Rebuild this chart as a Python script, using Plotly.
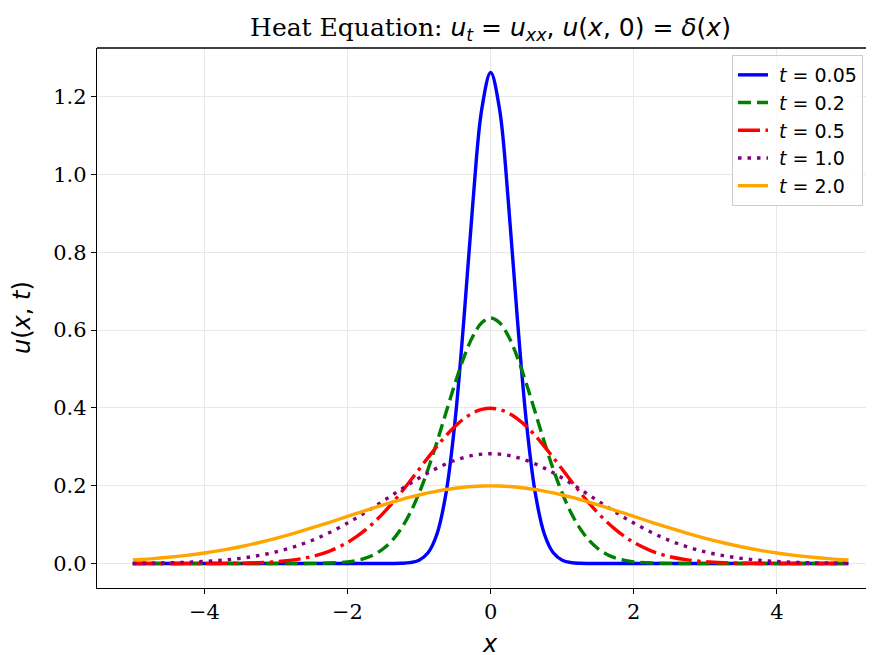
import plotly.graph_objects as go

# Sample positions (x >= 0); the curves are symmetric about x = 0
x_half = [0.0, 0.125, 0.25, 0.375, 0.5, 0.625, 0.75, 0.875, 1.0, 1.125, 1.25, 1.375,
          1.5, 1.625, 1.75, 1.875, 2.0, 2.25, 2.5, 2.75, 3.0, 3.25, 3.5, 3.75, 4.0,
          4.25, 4.5, 4.75, 5.0]

u_t005 = [1.2616, 1.1668, 0.9230, 0.6245, 0.3615, 0.1790, 0.0758, 0.0274, 0.0085, 0.00225,
          0.0005, 0.0001, 0.00002, 0.0, 0.0, 0.0, 0.0, 0.0, 0.0, 0.0, 0.0, 0.0, 0.0, 0.0, 0.0,
          0.0, 0.0, 0.0, 0.0]
u_t02 = [0.6308, 0.6186, 0.5834, 0.5291, 0.4615, 0.3871, 0.3123, 0.2422, 0.1807, 0.1297,
         0.0895, 0.0594, 0.0379, 0.0232, 0.0137, 0.0078, 0.00425, 0.00113, 0.00026, 0.00005,
         0.00001, 0.0, 0.0, 0.0, 0.0, 0.0, 0.0, 0.0, 0.0]
u_t05 = [0.3989, 0.3958, 0.3867, 0.3719, 0.3521, 0.3282, 0.3011, 0.2721, 0.2420, 0.2119,
         0.1826, 0.1550, 0.1295, 0.1065, 0.0863, 0.0688, 0.0540, 0.0317, 0.0175, 0.0091,
         0.00443, 0.00203, 0.00087, 0.00035, 0.00013, 0.00005, 0.00002, 0.00001, 0.0]
u_t1 = [0.2821, 0.2810, 0.2777, 0.2723, 0.2650, 0.2558, 0.2451, 0.2329, 0.2197, 0.2056,
        0.1909, 0.1758, 0.1607, 0.1458, 0.1312, 0.1171, 0.1038, 0.0796, 0.0591, 0.0426,
        0.0297, 0.0201, 0.0132, 0.0084, 0.00517, 0.00309, 0.00179, 0.00100, 0.00054]
u_t2 = [0.1995, 0.1991, 0.1979, 0.1960, 0.1933, 0.1900, 0.1859, 0.1813, 0.1760, 0.1703,
        0.1641, 0.1575, 0.1506, 0.1434, 0.1360, 0.1285, 0.1210, 0.1059, 0.0913, 0.0775,
        0.0648, 0.0533, 0.0431, 0.0344, 0.0270, 0.0209, 0.0159, 0.0119, 0.0088]

series_labels = ["0.05", "0.2", "0.5", "1.0", "2.0"]
series_values = [u_t005, u_t02, u_t05, u_t1, u_t2]
colors = ["blue", "green", "red", "purple", "orange"]
dashes = ["solid", "13px,6px", "22px,5.5px,3.5px,5.5px", "3.5px,6px", "solid"]

x_ticks = [-4, -2, 0, 2, 4]
y_ticks = [0.0, 0.2, 0.4, 0.6, 0.8, 1.0, 1.2]


def mirror(xs, ys):
    fx = [-v for v in reversed(xs[1:])] + list(xs)
    fy = list(reversed(ys[1:])) + list(ys)
    return fx, fy


SANS = "DejaVu Sans"
SERIF = "DejaVu Serif"

fig = go.Figure()
for lab, vals, c, d in zip(series_labels, series_values, colors, dashes):
    fx, fy = mirror(x_half, vals)
    fig.add_trace(go.Scatter(
        x=fx, y=fy, mode="lines", line=dict(color=c, width=3.4, dash=d, shape="spline"),
        name=f"&nbsp;<i>t</i> = {lab}",
    ))

# The page body has an 8px margin, so the figure is drawn 8px right/down.
OFF = 8
W, H = 874 - OFF, 655 - OFF
ml, mr, mt, mb = 97 - OFF, 0, 48 - OFF, 655 - 588
PW, PH = W - ml - mr, H - mt - mb

fig.update_layout(
    width=W, height=H,
    margin=dict(l=ml, r=mr, t=mt, b=mb, autoexpand=False),
    plot_bgcolor="white", paper_bgcolor="white",
    showlegend=True,
    legend=dict(
        x=(732 - OFF - ml) / PW, y=(H - mb - (55 - OFF)) / PH,
        xanchor="left", yanchor="top",
        bgcolor="rgba(255,255,255,0.85)", bordercolor="#cccccc", borderwidth=1,
        font=dict(family=SANS, size=19, color="black"),
        tracegroupgap=0,
    ),
    xaxis=dict(
        range=[-5.5, 5.356], tickvals=x_ticks, ticks="outside", ticklen=5, tickwidth=1.2,
        tickcolor="black", showline=True, linecolor="black", linewidth=1.3,
        showgrid=True, gridcolor="#e8e8e8", gridwidth=1, zeroline=False,
        tickfont=dict(family=SERIF, size=21, color="black"),
    ),
    yaxis=dict(
        range=[-0.063, 1.3247], tickvals=y_ticks, tickformat=".1f", ticks="outside",
        ticklen=5, tickwidth=1.2, tickcolor="black", showline=True, linecolor="black",
        linewidth=1.3, showgrid=True, gridcolor="#e8e8e8", gridwidth=1, zeroline=False,
        tickfont=dict(family=SERIF, size=21, color="black"),
    ),
    title=dict(
        text=("Heat Equation: <span style='font-family:DejaVu Sans'><i>u</i><sub><i>t</i></sub>"
              " = <i>u</i><sub><i>xx</i></sub>, <i>u</i>(<i>x</i>, 0) = <i>δ</i>(<i>x</i>)</span>"),
        x=(490.5 - OFF) / W, xanchor="center", y=1 - (27 - OFF) / H, yanchor="middle",
        font=dict(family=SERIF, size=25, color="black"),
    ),
    annotations=[
        dict(text="<i>u</i>(<i>x</i>, <i>t</i>)", xref="paper", yref="paper",
             x=-(ml - (22 - OFF)) / PW, y=0.5, xanchor="center", yanchor="middle",
             textangle=-90, showarrow=False, font=dict(family=SANS, size=24, color="black")),
        dict(text="<i>x</i>", xref="paper", yref="paper",
             x=(490.5 - OFF - ml) / PW, y=-((644 - OFF) - (H - mb)) / PH,
             xanchor="center", yanchor="middle", showarrow=False,
             font=dict(family=SANS, size=24, color="black")),
    ],
    shapes=[dict(type="line", xref="paper", yref="paper", x0=0, x1=1, y0=1, y1=1,
                 line=dict(color="black", width=1.3))],
)

fig.write_html("out.html")
